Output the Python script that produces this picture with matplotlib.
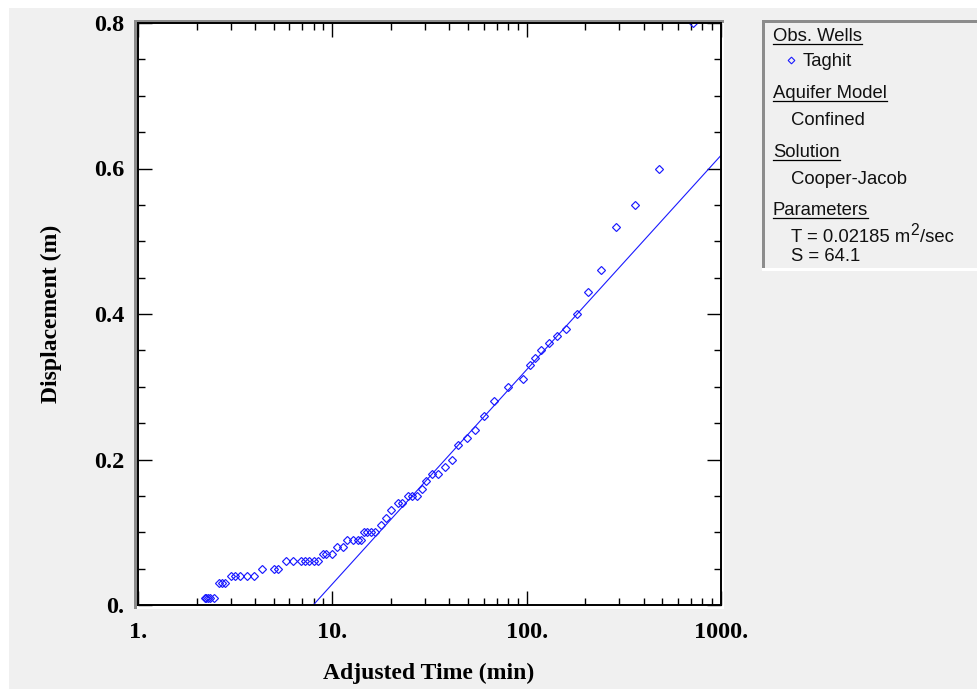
import numpy as np
import matplotlib
matplotlib.use("Agg")
import matplotlib.pyplot as plt
from matplotlib.patches import Rectangle
from matplotlib.ticker import FixedLocator, LogLocator, MultipleLocator, NullFormatter

# observed drawdown, well "Taghit"
time_min = [2.2, 2.25, 2.3, 2.35, 2.45,
            2.6, 2.7, 2.8,
            3.0, 3.15, 3.35, 3.65, 3.95,
            4.35, 5.0, 5.25,
            5.8, 6.3, 6.9, 7.25, 7.6, 8.0, 8.4,
            9.0, 9.3, 10.0,
            10.6, 11.3,
            11.9, 12.8, 13.5, 14.1,
            14.6, 15.1, 15.9, 16.5,
            17.9, 18.8, 20.1, 21.9, 22.9,
            24.6, 25.8, 27.4, 28.8, 30.5, 32.4, 34.8, 37.8, 41.1,
            44.1, 49.1, 53.9, 60.0, 67.6, 79.8, 95.3, 103.6, 111, 119,
            131, 144, 159, 181, 206, 241, 288, 361, 479, 717]
displacement = [0.01, 0.01, 0.01, 0.01, 0.01,
                0.03, 0.03, 0.03,
                0.04, 0.04, 0.04, 0.04, 0.04,
                0.05, 0.05, 0.05,
                0.06, 0.06, 0.06, 0.06, 0.06, 0.06, 0.06,
                0.07, 0.07, 0.07,
                0.08, 0.08,
                0.09, 0.09, 0.09, 0.09,
                0.10, 0.10, 0.10, 0.10,
                0.11, 0.12, 0.13, 0.14, 0.14,
                0.15, 0.15, 0.15, 0.16, 0.17, 0.18, 0.18, 0.19, 0.20,
                0.22, 0.23, 0.24, 0.26, 0.28, 0.30, 0.31, 0.33, 0.34, 0.35,
                0.36, 0.37, 0.38, 0.40, 0.43, 0.46, 0.52, 0.55, 0.60, 0.80]

# Cooper-Jacob straight line: s = slope * log10(t / t0)
cj_t0 = 7.98
cj_slope = 0.2946
cj_time = [cj_t0, 1000.0]

x_ticks = [1, 10, 100, 1000]
x_labels = ["1.", "10.", "100.", "1000."]
y_ticks = [0.0, 0.2, 0.4, 0.6, 0.8]
y_labels = ["0.", "0.2", "0.4", "0.6", "0.8"]

# (text, kind, baseline in pixels); a list of pieces is written one after another
legend_lines = [
    ("Obs. Wells", "head", 41),
    ("Taghit", "well", 66),
    ("Aquifer Model", "head", 98),
    ("Confined", "item", 125),
    ("Solution", "head", 157),
    ("Cooper-Jacob", "item", 184),
    ("Parameters", "head", 215),
    (["T = 0.02185 m", "2", "/sec"], "item", 242),
    ("S = 64.1", "item", 261),
]

W, H = 978, 689
BG = "#f0f0f0"
SHADE = "#8c8c8c"
BLUE = "#1a1aff"
FS = 13.3


def fx(x):
    return x / W


def fy(y):
    return 1 - y / H


def box(fig, x0, y0, x1, y1, color, z=0):
    fig.add_artist(Rectangle((fx(x0), fy(y1)), fx(x1) - fx(x0), fy(y0) - fy(y1),
                             transform=fig.transFigure, facecolor=color,
                             edgecolor="none", zorder=z))


fig = plt.figure(figsize=(W / 100, H / 100), dpi=100, facecolor="white")
box(fig, 9, 8, W, H, BG, z=-10)

# sunken frame around the plot
box(fig, 134, 20, 724, 609, "white", z=-9)
box(fig, 134, 20, 724, 23, SHADE, z=-8)
box(fig, 134, 20, 137, 609, SHADE, z=-8)

ax = fig.add_axes([fx(138), fy(605), fx(721) - fx(138), fy(23) - fy(605)])
ax.set_facecolor("white")

ax.plot(time_min, displacement, linestyle="none", marker="D", markersize=4.5,
        markerfacecolor="none", markeredgecolor=BLUE, markeredgewidth=0.85,
        clip_on=True)
cj_s = [cj_slope * np.log10(t / cj_t0) for t in cj_time]
ax.plot(cj_time, cj_s, color=BLUE, linewidth=0.8)

ax.set_xscale("log")
ax.set_xlim(1, 1000)
ax.set_ylim(0, 0.8)

ax.xaxis.set_major_locator(FixedLocator(x_ticks))
ax.set_xticklabels(x_labels)
ax.xaxis.set_minor_locator(LogLocator(base=10, subs=np.arange(2, 10)))
ax.xaxis.set_minor_formatter(NullFormatter())
ax.set_yticks(y_ticks)
ax.set_yticklabels(y_labels)
ax.yaxis.set_minor_locator(MultipleLocator(0.05))

ax.tick_params(which="both", direction="in", top=True, right=True, width=1.0,
               color="black")
ax.tick_params(which="major", length=10)
ax.tick_params(which="minor", length=5)
ax.tick_params(axis="x", which="major", pad=12)
ax.tick_params(axis="y", which="major", pad=10)
for lab in ax.get_xticklabels() + ax.get_yticklabels():
    lab.set_fontfamily("Liberation Serif")
    lab.set_fontweight("bold")
    lab.set_fontsize(17.5)
for sp in ax.spines.values():
    sp.set_linewidth(1.4)
    sp.set_color("black")

fig.text(fx(429), fy(673), "Adjusted Time (min)", ha="center", va="center",
         family="Liberation Serif", weight="bold", fontsize=17)
fig.text(fx(51), fy(314), "Displacement (m)", ha="center", va="center",
         rotation=90, family="Liberation Serif", weight="bold", fontsize=17)

# legend panel
box(fig, 762, 20, W, 271, "white", z=-7)
box(fig, 762, 20, W, 268, BG, z=-6)
box(fig, 762, 20, W, 23, SHADE, z=-5)
box(fig, 762, 20, 765, 268, SHADE, z=-5)

fig.canvas.draw()
renderer = fig.canvas.get_renderer()
for label, kind, base in legend_lines:
    x = 773 if kind == "head" else (803 if kind == "well" else 791)
    if isinstance(label, list):
        # plain text, raised superscript, plain text
        cur = x
        for i, piece in enumerate(label):
            sup = i == 1
            t = fig.text(fx(cur), fy(base - 7 if sup else base), piece,
                         ha="left", va="baseline", family="Liberation Sans",
                         fontsize=FS * 0.85 if sup else FS, color="#111111")
            bb = t.get_window_extent(renderer)
            cur = bb.x1 + (1 if sup else 0)
        continue
    t = fig.text(fx(x), fy(base), label, ha="left", va="baseline",
                 family="Liberation Sans", fontsize=FS, color="#111111")
    if kind == "head":
        bb = t.get_window_extent(renderer)
        fig.add_artist(plt.Line2D([fx(x), bb.x1 / fig.bbox.width],
                                  [fy(base + 3), fy(base + 3)],
                                  transform=fig.transFigure, color="black",
                                  linewidth=0.9))
    if kind == "well":
        fig.add_artist(plt.Line2D([fx(791)], [fy(base - 6)], marker="D",
                                  markersize=3.4, markerfacecolor="none",
                                  markeredgecolor=BLUE, markeredgewidth=0.8,
                                  transform=fig.transFigure))

fig.savefig("out.png", dpi=100, facecolor=fig.get_facecolor())
